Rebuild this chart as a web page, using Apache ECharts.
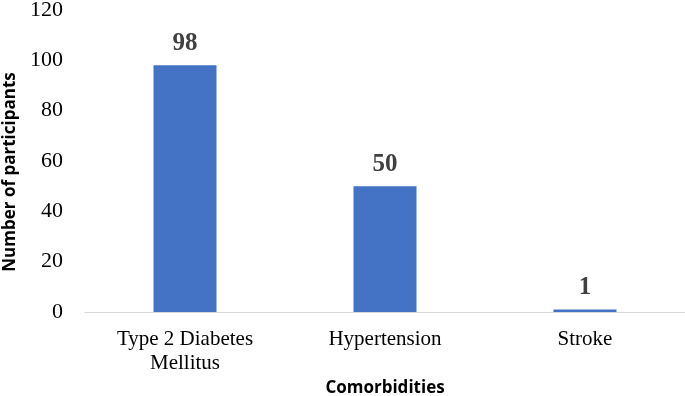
<!DOCTYPE html>
<html><head><meta charset="utf-8">
<script src="https://cdn.jsdelivr.net/npm/echarts@6/dist/echarts.min.js"></script>
<style>html,body{margin:0;padding:0;background:#fff}#c{width:685px;height:396px}</style>
</head><body><div id="c"></div>
<script>
const categories = ['Type 2 Diabetes\nMellitus', 'Hypertension', 'Stroke'];
const values = [98, 50, 1];
const yTicks = [0, 20, 40, 60, 80, 100, 120];

const chart = echarts.init(document.getElementById('c'));
chart.setOption({
  animation: false,
  grid: {left: 85, right: 0, top: 10, height: 302, containLabel: false, outerBoundsMode: 'none'},
  xAxis: {
    type: 'category', data: categories,
    name: 'Comorbidities', nameLocation: 'middle', nameGap: 62,
    nameTextStyle: {fontFamily: 'Open Sans', fontWeight: 'bold', fontSize: 17, color: '#000'},
    axisLine: {lineStyle: {color: '#d9d9d9', width: 1}},
    axisTick: {show: false},
    axisLabel: {fontFamily: 'Liberation Serif', fontSize: 21, color: '#000', margin: 15, lineHeight: 24}
  },
  yAxis: {
    type: 'value', min: yTicks[0], max: yTicks[yTicks.length - 1], interval: 20,
    name: 'Number of participants', nameLocation: 'middle', nameGap: 64,
    nameTextStyle: {fontFamily: 'Open Sans', fontWeight: 'bold', fontSize: 17, color: '#000', padding: [0, 22, 0, 0]},
    splitLine: {show: false},
    axisLine: {show: false}, axisTick: {show: false},
    axisLabel: {fontFamily: 'Liberation Serif', fontSize: 22, color: '#000', margin: 22}
  },
  series: [{
    type: 'bar', data: values, barWidth: 63,
    itemStyle: {color: '#4472C4'},
    label: {show: true, position: 'top', distance: 9,
      fontFamily: 'Liberation Serif', fontWeight: 'bold', fontSize: 25, color: '#404040'}
  }]
});
</script></body></html>
